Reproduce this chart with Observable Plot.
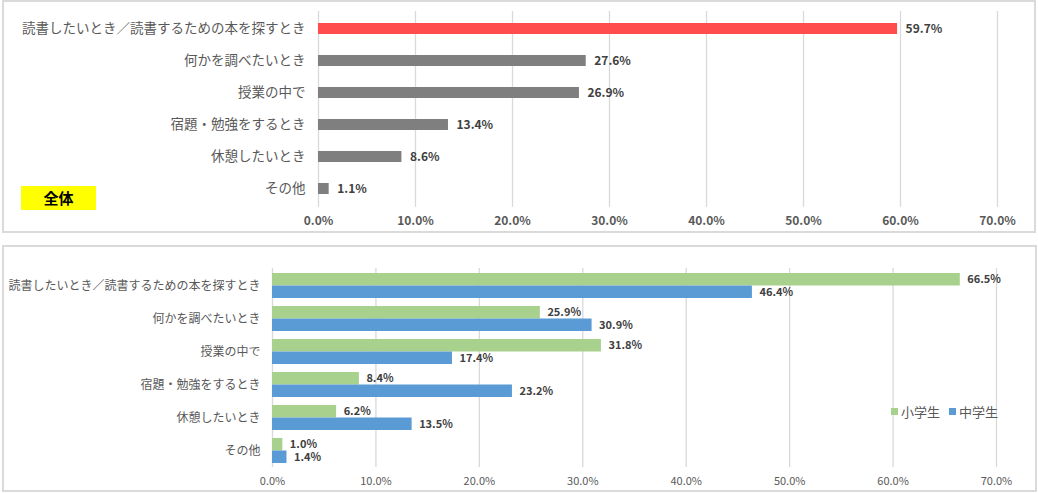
<!DOCTYPE html>
<html><head><meta charset="utf-8">
<script src="https://cdn.jsdelivr.net/npm/d3@7"></script>
<script src="https://cdn.jsdelivr.net/npm/@observablehq/plot@0.6"></script>
<style>
body{margin:0;background:#fff;font-family:"Noto Sans CJK JP","Noto Sans",sans-serif;}
#wrap{position:relative;width:1038px;height:493px;overflow:hidden;}
.panel{position:absolute;border:2px solid #dadada;box-sizing:border-box;}
.chart{position:absolute;left:0;}
#tag{position:absolute;left:21px;top:186px;width:75px;height:24px;background:#ffff00;color:#000;font-weight:bold;font-size:15px;line-height:24px;text-align:center;}
#legend{position:absolute;left:891px;top:402px;font-size:13px;color:#595959;display:flex;align-items:center;white-space:nowrap;}
#legend .sw{display:inline-block;width:7px;height:7px;margin-right:3px;}
#legend .item{display:flex;align-items:center;margin-right:9px;}
</style></head>
<body><div id="wrap">
<div class="panel" style="left:2px;top:0px;width:1034px;height:233px;"></div>
<div class="panel" style="left:2px;top:245px;width:1035px;height:247px;"></div>
<div class="chart" id="top" style="top:0px;"></div>
<div class="chart" id="bottom" style="top:246px;"></div>
<div id="tag"></div>
<div id="legend"></div>
</div>
<script>
// ---- data ----
const categories = ["読書したいとき／読書するための本を探すとき","何かを調べたいとき","授業の中で","宿題・勉強をするとき","休憩したいとき","その他"];
const overall = [59.7, 27.6, 26.9, 13.4, 8.6, 1.1];
const elementary = [66.5, 25.9, 31.8, 8.4, 6.2, 1.0];
const juniorHigh = [46.4, 30.9, 17.4, 23.2, 13.5, 1.4];
const seriesNames = ["小学生", "中学生"];
const xTicks = [0, 10, 20, 30, 40, 50, 60, 70];
const overallTag = "全体";

// ---- styles ----
const font = "'Noto Sans CJK JP','Noto Sans',sans-serif";
const red = "#ff4d4d", grey = "#7f7f7f";
const seriesColors = ["#a9d18e", "#5b9bd5"];
const gridColor = "#d9d9d9";
const pct = d => d.toFixed(1) + "%";

const overallData = categories.map((c, i) => ({category: c, value: overall[i]}));
const elemData = categories.map((c, i) => ({category: c, value: elementary[i]}));
const juniorData = categories.map((c, i) => ({category: c, value: juniorHigh[i]}));

const topPlot = Plot.plot({
  width: 1038, height: 232,
  marginLeft: 318, marginRight: 41, marginTop: 11, marginBottom: 25,
  style: {fontFamily: font, background: "transparent", overflow: "visible"},
  x: {domain: [0, 70]},
  y: {domain: categories, paddingInner: 0.648, paddingOuter: 0.324},
  marks: [
    Plot.gridX(xTicks, {stroke: gridColor, strokeOpacity: 1, strokeWidth: 1.3}),
    Plot.barX(overallData, {filter: d => d.category === categories[0], x: "value", y: "category", fill: red}),
    Plot.barX(overallData, {filter: d => d.category !== categories[0], x: "value", y: "category", fill: grey}),
    Plot.text(overallData, {x: "value", y: "category", text: d => pct(d.value), textAnchor: "start", dx: 8, fontSize: 12, fontWeight: "bold", fill: "#404040"}),
    Plot.axisX(xTicks, {tickSize: 0, tickPadding: 9, tickFormat: pct, fontSize: 12, fontWeight: "bold", color: "#595959", label: null}),
    Plot.axisY({tickSize: 0, tickPadding: 13, fontSize: 13.5, color: "#595959", label: null})
  ]
});
document.getElementById("top").appendChild(topPlot);

const half = 12.5;
const bottomPlot = Plot.plot({
  width: 1038, height: 245,
  marginLeft: 272, marginRight: 42, marginTop: 22, marginBottom: 24,
  style: {fontFamily: font, background: "transparent", overflow: "visible"},
  x: {domain: [0, 70]},
  y: {domain: categories, paddingInner: 0.245, paddingOuter: 0.12},
  marks: [
    Plot.gridX(xTicks, {stroke: gridColor, strokeOpacity: 1, strokeWidth: 1.3}),
    Plot.barX(elemData, {x: "value", y: "category", fill: seriesColors[0], insetBottom: half}),
    Plot.barX(juniorData, {x: "value", y: "category", fill: seriesColors[1], insetTop: half}),
    Plot.text(elemData, {x: "value", y: "category", text: d => pct(d.value), textAnchor: "start", dx: 7, dy: -half / 2, fontSize: 11, fontWeight: "bold", fill: "#404040"}),
    Plot.text(juniorData, {x: "value", y: "category", text: d => pct(d.value), textAnchor: "start", dx: 7, dy: half / 2, fontSize: 11, fontWeight: "bold", fill: "#404040"}),
    Plot.axisX(xTicks, {tickSize: 0, tickPadding: 10, tickFormat: pct, fontSize: 11, color: "#595959", label: null}),
    Plot.axisY({tickSize: 0, tickPadding: 12, fontSize: 12, color: "#595959", label: null})
  ]
});
document.getElementById("bottom").appendChild(bottomPlot);

document.getElementById("tag").textContent = overallTag;
const legend = document.getElementById("legend");
seriesNames.forEach((name, i) => {
  const item = document.createElement("span");
  item.className = "item";
  const sw = document.createElement("span");
  sw.className = "sw";
  sw.style.background = seriesColors[i];
  item.appendChild(sw);
  item.appendChild(document.createTextNode(name));
  legend.appendChild(item);
});
</script>
</body></html>
